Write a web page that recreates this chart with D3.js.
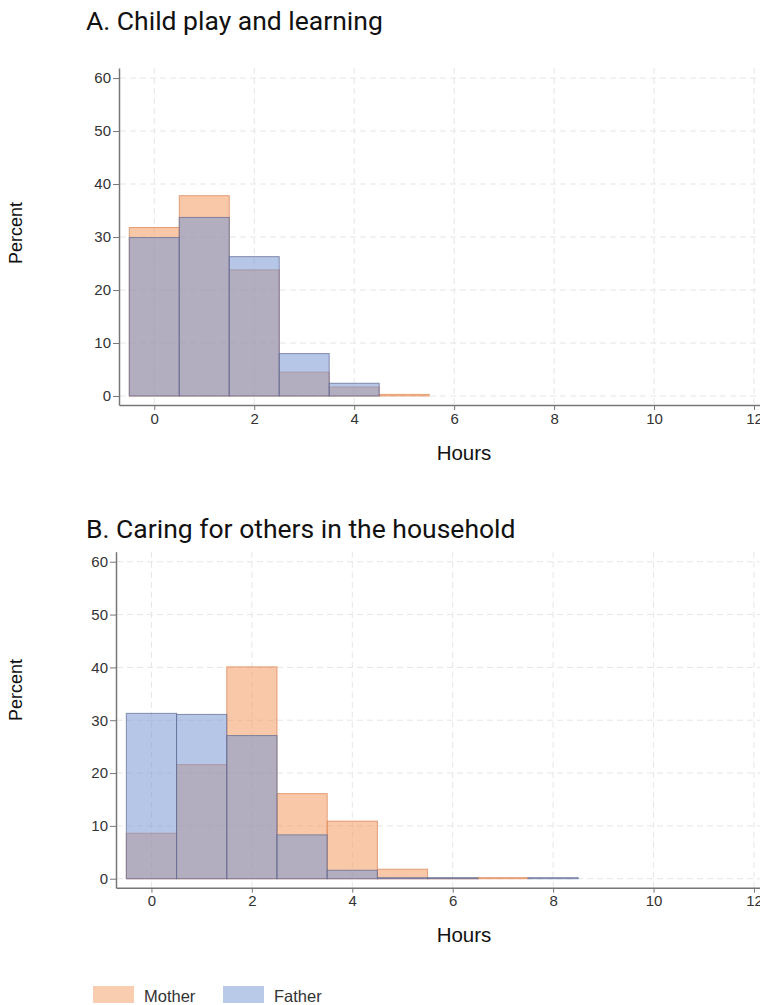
<!DOCTYPE html>
<html>
<head>
<meta charset="utf-8">
<script src="https://cdn.jsdelivr.net/npm/d3@7"></script>
<style>
  html, body { margin: 0; padding: 0; background: #fff; }
  svg { display: block; }
</style>
</head>
<body>
<svg id="chart" width="760" height="1005"></svg>
<script>
// ---- Data ----
const hours = [0, 1, 2, 3, 4, 5, 6, 7, 8];
const xTicks = [0, 2, 4, 6, 8, 10, 12];
const yTicks = [0, 10, 20, 30, 40, 50, 60];
const seriesNames = ["Mother", "Father"];

const playMother = [31.8, 37.8, 23.8, 4.5, 1.7, 0.3, 0, 0, 0];
const playFather = [29.9, 33.7, 26.3, 8.0, 2.4, 0, 0, 0, 0];

const careMother = [8.6, 21.6, 40.1, 16.1, 10.9, 1.8, 0.1, 0.2, 0];
const careFather = [31.3, 31.1, 27.1, 8.3, 1.6, 0.2, 0.2, 0, 0.2];

const panelTitles = ["A. Child play and learning", "B. Caring for others in the household"];

// ---- Styles ----
const motherFill = "rgba(241,145,81,0.5)";
const motherStroke = "rgba(225,140,95,0.8)";
const fatherFill = "rgba(120,151,209,0.55)";
const fatherStroke = "rgba(100,110,150,0.75)";
const sansFont = "'Liberation Sans', Arial, sans-serif";

const svg = d3.select("#chart");

function panel(cfg) {
  const g = svg.append("g");
  const x = d3.scaleLinear().domain([-0.706, 12.12]).range([cfg.left, 760]);
  const y = d3.scaleLinear().domain([-1.7, 61.9]).range([cfg.bottom, cfg.top]);

  // title
  g.append("text")
    .attr("x", 86).attr("y", cfg.titleY)
    .attr("font-family", "Roboto, sans-serif")
    .attr("font-size", 26.5)
    .attr("fill", "#111")
    .text(cfg.title);

  // grid
  const grid = g.append("g");
  grid.selectAll("line.h").data(yTicks).enter().append("line")
    .attr("x1", cfg.left + 1).attr("x2", 760)
    .attr("y1", d => y(d)).attr("y2", d => y(d))
    .attr("stroke", "#e6e6e6").attr("stroke-width", 1)
    .attr("stroke-dasharray", "6,4");
  grid.selectAll("line.v").data(xTicks).enter().append("line")
    .attr("x1", d => x(d)).attr("x2", d => x(d))
    .attr("y1", cfg.top).attr("y2", cfg.bottom - 1)
    .attr("stroke", "#e6e6e6").attr("stroke-width", 1)
    .attr("stroke-dasharray", "6,4");

  // bars
  function bars(vals, fill, stroke) {
    g.append("g").selectAll("rect").data(hours.map((h, i) => ({h, v: vals[i]})).filter(d => d.v > 0))
      .enter().append("rect")
      .attr("x", d => x(d.h - 0.5))
      .attr("width", d => x(d.h + 0.5) - x(d.h - 0.5))
      .attr("y", d => y(d.v))
      .attr("height", d => y(0) - y(d.v))
      .attr("fill", fill)
      .attr("stroke", stroke)
      .attr("stroke-width", 1);
  }
  bars(cfg.mother, motherFill, motherStroke);
  bars(cfg.father, fatherFill, fatherStroke);

  // axes
  const yAxis = g.append("g")
    .attr("transform", `translate(${cfg.left},0)`)
    .call(d3.axisLeft(y).tickValues(yTicks).tickSize(6).tickSizeOuter(0).tickPadding(2));
  const xAxis = g.append("g")
    .attr("transform", `translate(0,${cfg.bottom})`)
    .call(d3.axisBottom(x).tickValues(xTicks).tickSize(5).tickSizeOuter(0).tickPadding(3));
  [yAxis, xAxis].forEach(a => {
    a.select(".domain").attr("stroke", "#777").attr("stroke-width", 1.5);
    a.selectAll(".tick line").attr("stroke", "#777").attr("stroke-width", 1);
    a.selectAll(".tick text")
      .attr("font-family", sansFont)
      .attr("font-size", 15)
      .attr("fill", "#333");
  });

  // axis titles
  g.append("text")
    .attr("transform", `translate(22,${cfg.percentY}) rotate(-90)`)
    .attr("text-anchor", "middle")
    .attr("font-family", sansFont)
    .attr("font-size", 18)
    .attr("fill", "#111")
    .text("Percent");
  g.append("text")
    .attr("x", 464).attr("y", cfg.hoursY)
    .attr("text-anchor", "middle")
    .attr("font-family", sansFont)
    .attr("font-size", 20.5)
    .attr("fill", "#111")
    .text("Hours");
}

panel({title: panelTitles[0], titleY: 30, left: 119, top: 68, bottom: 405,
       mother: playMother, father: playFather, percentY: 233, hoursY: 460});
panel({title: panelTitles[1], titleY: 538, left: 116, top: 551.7, bottom: 887.7,
       mother: careMother, father: careFather, percentY: 690, hoursY: 942});

// legend
const legendColors = ["#f9cdb0", "#b9cae9"];
const legendX = [93, 223];
const lg = svg.append("g");
seriesNames.forEach((name, i) => {
  lg.append("rect")
    .attr("x", legendX[i]).attr("y", 986)
    .attr("width", 41).attr("height", 17)
    .attr("fill", legendColors[i]);
  lg.append("text")
    .attr("x", legendX[i] + 51).attr("y", 1002)
    .attr("font-family", sansFont)
    .attr("font-size", 16.5)
    .attr("fill", "#333")
    .text(name);
});
</script>
</body>
</html>
